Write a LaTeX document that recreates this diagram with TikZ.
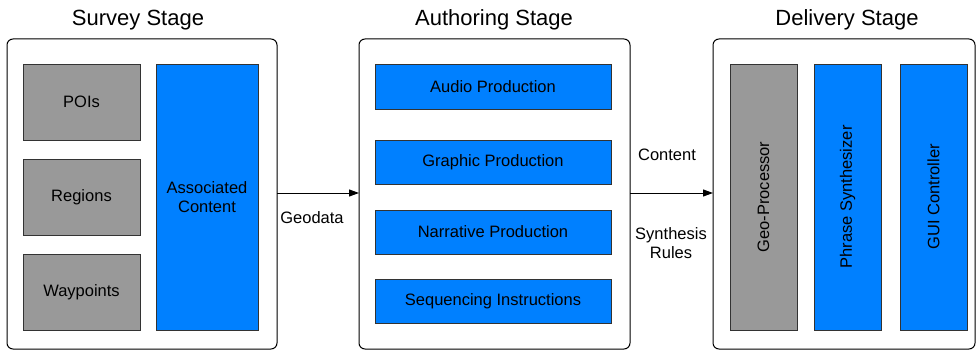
\documentclass[tikz,border=0pt]{standalone}
\usepackage{fontspec}
\setmainfont{Liberation Sans}
\usetikzlibrary{arrows.meta}
\definecolor{bblue}{HTML}{0080FF}
\definecolor{bgray}{HTML}{999999}
\begin{document}
\begin{tikzpicture}[x=1pt,y=-1pt,
  stage/.style={draw=black,line width=1pt,rounded corners=6pt,fill=white},
  title/.style={font=\fontsize{22}{26}\selectfont},
  lbl/.style={font=\fontsize{16.5}{19.5}\selectfont},
  gbox/.style={draw=black!80,line width=0.9pt,fill=bgray},
  bbox/.style={draw=black!80,line width=0.9pt,fill=bblue},
  conn/.style={line width=1pt,-{Triangle[length=10pt,width=7pt]}}]
\useasboundingbox (0,0) rectangle (979,350);
% stages
\draw[stage] (7,39) rectangle (277,349);
\draw[stage] (359,39) rectangle (630,349);
\draw[stage] (713,39) rectangle (975,349);
\node[coordinate] (s1) at (277,193) {};
\node[coordinate] (a1) at (359,193) {};
\node[coordinate] (a2) at (630,193) {};
\node[coordinate] (d1) at (713,193) {};
\node[title] (t1) at (138,20) {Survey Stage};
\node[title] (t2) at (494,20) {Authoring Stage};
\node[title] (t3) at (847,20) {Delivery Stage};
% survey
\draw[gbox] (23,64) rectangle node[lbl] (poi) {POIs} (140,140);
\draw[gbox] (23,159) rectangle node[lbl] (reg) {Regions} (140,235);
\draw[gbox] (23,254) rectangle node[lbl] (way) {Waypoints} (140,330);
\draw[bbox] (156,64) rectangle node[lbl,align=center] (ac) {Associated\\Content} (258,330);
% authoring
\draw[bbox] (375,64) rectangle node[lbl] (aud) {Audio Production} (611,109);
\draw[bbox] (375,140) rectangle node[lbl] (gra) {Graphic Production} (611,184);
\draw[bbox] (375,210) rectangle node[lbl] (nar) {Narrative Production} (611,254);
\draw[bbox] (375,279) rectangle node[lbl] (seq) {Sequencing Instructions} (611,323);
% delivery
\draw[gbox] (730,64) rectangle node[lbl,rotate=90] (geo) {Geo-Processor} (797,330);
\draw[bbox] (814,64) rectangle node[lbl,rotate=90] (phr) {Phrase Synthesizer} (881,330);
\draw[bbox] (900,64) rectangle node[lbl,rotate=90] (gui) {GUI Controller} (967,330);
% connectors
\draw[conn] (s1) -- (a1);
\draw[conn] (a2) -- (d1);
\node[lbl] (geod) at (312,218) {Geodata};
\node[lbl] (cont) at (667,155) {Content};
\node[lbl,align=center] (syn) at (671,243) {Synthesis\\Rules};
\end{tikzpicture}
\end{document}
